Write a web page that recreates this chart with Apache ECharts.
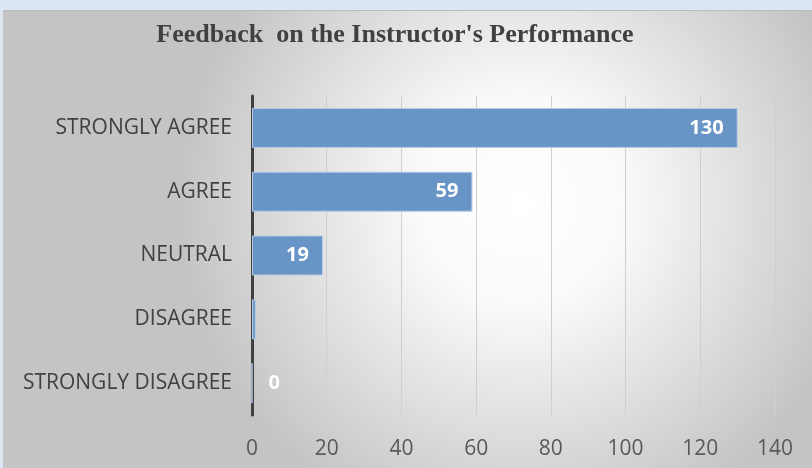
<!DOCTYPE html>
<html>
<head>
<meta charset="utf-8">
<script src="https://cdn.jsdelivr.net/npm/echarts@6/dist/echarts.min.js"></script>
<style>
  html, body { margin: 0; padding: 0; background: #dce6f2; }
  #chart {
    position: absolute; left: 3px; top: 10px;
    width: 809px; height: 458px;
    box-sizing: border-box; border-top: 1px solid #bcbcbc;
  }
</style>
</head>
<body>
<div id="chart"></div>
<script>
// 数据
var categories = ['STRONGLY AGREE', 'AGREE', 'NEUTRAL', 'DISAGREE', 'STRONGLY DISAGREE']
var counts = [130, 59, 19, 1, 0]
var showValue = [true, true, true, false, true]
var xTicks = { min: 0, max: 140, interval: 20 }

var myChart = echarts.init(document.getElementById('chart'))

var barData = counts.map(function (v, i) {
  return {
    value: v,
    label: {
      show: showValue[i],
      position: v === 0 ? 'right' : 'insideRight',
      distance: v === 0 ? 16 : 14
    }
  }
})

myChart.setOption({
  backgroundColor: {
    type: 'radial', x: 0.64, y: 0.42, r: 0.75,
    colorStops: [
      { offset: 0, color: '#ffffff' },
      { offset: 0.3, color: '#fafafa' },
      { offset: 1, color: '#c4c4c4' }
    ]
  },
  title: {
    text: "Feedback  on the Instructor's Performance",
    left: 387,
    textAlign: 'center',
    top: 6,
    textStyle: {
      fontFamily: 'Liberation Serif',
      fontWeight: 'bold',
      fontSize: 26,
      color: '#404040'
    }
  },
  grid: {
    left: 249,
    right: 37,
    top: 85,
    bottom: 53
  },
  xAxis: {
    type: 'value',
    min: xTicks.min,
    max: xTicks.max,
    interval: xTicks.interval,
    axisLine: { show: false },
    axisTick: { show: false },
    axisLabel: {
      margin: 24,
      fontFamily: 'Open Sans',
      fontSize: 21,
      color: '#595959'
    },
    splitLine: {
      lineStyle: { color: '#cfcfcf', width: 1 }
    }
  },
  yAxis: {
    type: 'category',
    inverse: true,
    data: categories,
    axisLine: { lineStyle: { color: '#404040', width: 3 } },
    axisTick: { show: false },
    axisLabel: {
      margin: 20,
      fontFamily: 'Open Sans',
      fontSize: 21,
      color: '#404040'
    }
  },
  series: [
    {
      type: 'bar',
      data: barData,
      barWidth: 40,
      itemStyle: {
        color: '#6894c6',
        borderColor: '#b4cbe6',
        borderWidth: 1
      },
      label: {
        color: '#ffffff',
        fontFamily: 'Open Sans',
        fontWeight: 'bold',
        fontSize: 20
      }
    }
  ]
})
</script>
</body>
</html>
